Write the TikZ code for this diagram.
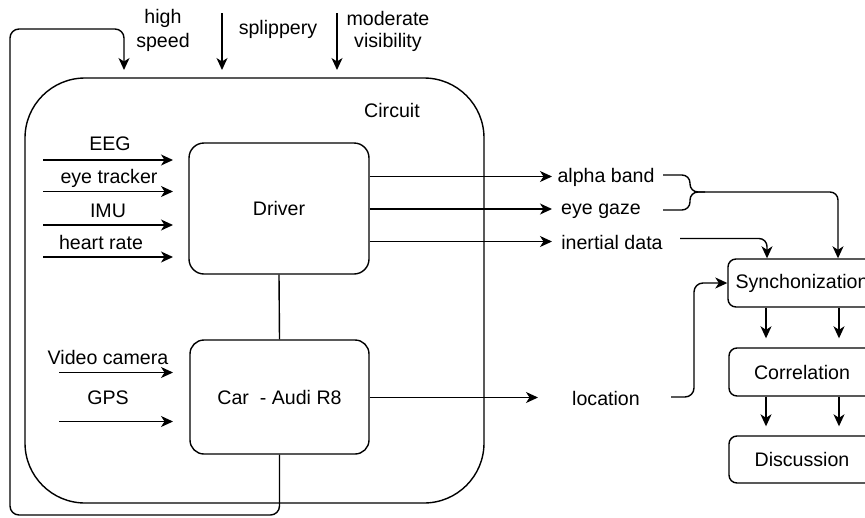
\documentclass[tikz,border=0pt]{standalone}
\usepackage{fontspec}
\setmainfont{Liberation Sans}
\usetikzlibrary{arrows.meta,calc}
\begin{document}
\begin{tikzpicture}[x=1pt,y=-1pt,
  line width=1.4pt,
  arr/.style={-{Stealth[length=12pt,width=11pt,inset=3.5pt]}},
  box/.style={draw, inner sep=0pt, font=\fontsize{19.6}{22}\selectfont},
  lbl/.style={inner sep=0pt, font=\fontsize{19.6}{22}\selectfont},
  loop/.style={rounded corners=9pt}]
\useasboundingbox (0,0) rectangle (865,517);
\clip (0,0) rectangle (865,517);

% containers and boxes
\node[box, rounded corners=60pt, minimum width=459pt, minimum height=425pt] (circuit) at (254.5,290.5) {};
\node[lbl] (circuitlbl) at (392,110) {Circuit};
\node[box, rounded corners=15pt, minimum width=180pt, minimum height=131pt] (driver) at (279,208.5) {Driver};
\node[box, rounded corners=14pt, minimum width=179pt, minimum height=114pt] (car) at (279.5,397) {Car\ \ - Audi R8};
\node[box, rounded corners=8pt, minimum width=148pt, minimum height=48pt] (sync) at (802,283) {Synchonization};
\node[box, rounded corners=8pt, minimum width=146pt, minimum height=48pt] (corr) at (802,372) {Correlation};
\node[box, rounded corners=8pt, minimum width=146pt, minimum height=47pt] (disc) at (802,459.5) {Discussion};

% top labels
\node[lbl] (high) at (163,18) {high};
\node[lbl] (speed) at (163,42) {speed};
\node[lbl] (slip) at (278,29) {splippery};
\node[lbl] (moder) at (388,18) {moderate};
\node[lbl] (visib) at (388,42) {visibility};
\coordinate (t2a) at (222,13); \coordinate (t2b) at (222,70);
\coordinate (t3a) at (337,13); \coordinate (t3b) at (337,70);
\draw[arr] (t2a) -- (t2b);
\draw[arr] (t3a) -- (t3b);

% feedback loop
\coordinate (fb1) at (279.5,515);
\coordinate (fb2) at (10,515);
\coordinate (fb3) at (10,29);
\coordinate (fb4) at (124,29);
\coordinate (fb5) at (124,70);
\draw[arr, loop] (car.south) -- (fb1) -- (fb2) -- (fb3) -- (fb4) -- (fb5);

% driver inputs
\node[lbl] (eeg) at (110,144) {EEG};
\node[lbl] (eyet) at (109,178) {eye tracker};
\node[lbl] (imu) at (108,211) {IMU};
\node[lbl] (heart) at (101,242) {heart rate};
\foreach \n/\y in {a/160,b/191.5,c/225,d/257}{
  \coordinate (in\n s) at (43,\y);
  \coordinate (in\n e) at (173,\y);
  \draw[arr] (in\n s) -- (in\n e);
}

% car inputs
\node[lbl] (video) at (108,357) {Video camera};
\node[lbl] (gps) at (108,398) {GPS};
\coordinate (ves) at (59,372.5); \coordinate (vee) at (173,372.5);
\coordinate (ges) at (59,421.5); \coordinate (gee) at (173,421.5);
\draw[arr] (ves) -- (vee);
\draw[arr] (ges) -- (gee);

% driver -- car
\draw (driver.south) -- (car.north);

% driver outputs
\node[lbl] (alpha) at (606,177) {alpha band};
\node[lbl] (gaze) at (601,211) {eye gaze};
\node[lbl] (inert) at (612,242) {inertial data};
\node[lbl] (loc) at (606,398) {location};
\coordinate (oa) at (552,176.5);
\coordinate (ob) at (552,209);
\coordinate (oc) at (552,241.5);
\coordinate (od) at (538,397.5);
\draw[arr] (driver.east |- oa) -- (oa);
\draw[arr] (driver.east |- ob) -- (ob);
\draw[arr] (driver.east |- oc) -- (oc);
\draw[arr] (car.east |- od) -- (od);

% brace merge to sync
\coordinate (br1) at (663,175);
\coordinate (br2) at (690,175);
\coordinate (br3) at (690,192);
\coordinate (br4) at (838,192);
\coordinate (br5) at (663,210);
\coordinate (br6) at (690,210);
\coordinate (br7) at (705,192);
\draw[arr, rounded corners=8pt] (br1) -- (br2) -- (br3) -- (br4) -- (sync.north -| br4);
\draw[rounded corners=8pt] (br5) -- (br6) -- (br3) -- (br7);

% inertial to sync
\coordinate (in1) at (680,238.5);
\coordinate (in2) at (767,238.5);
\draw[arr, rounded corners=8pt] (in1) -- (in2) -- (sync.north -| in2);

% location to sync
\coordinate (lc1) at (671,397);
\coordinate (lc2) at (694,397);
\coordinate (lc3) at (694,283);
\draw[arr, rounded corners=9pt] (lc1) -- (lc2) -- (lc3) -- (sync.west);

% sync -> corr -> disc
\coordinate (c1) at (766,0); \coordinate (c2) at (839,0);
\draw[arr, shorten >=9pt] (sync.south -| c1) -- (corr.north -| c1);
\draw[arr, shorten >=9pt] (sync.south -| c2) -- (corr.north -| c2);
\draw[arr, shorten >=9pt] (corr.south -| c1) -- (disc.north -| c1);
\draw[arr, shorten >=9pt] (corr.south -| c2) -- (disc.north -| c2);
\end{tikzpicture}
\end{document}
